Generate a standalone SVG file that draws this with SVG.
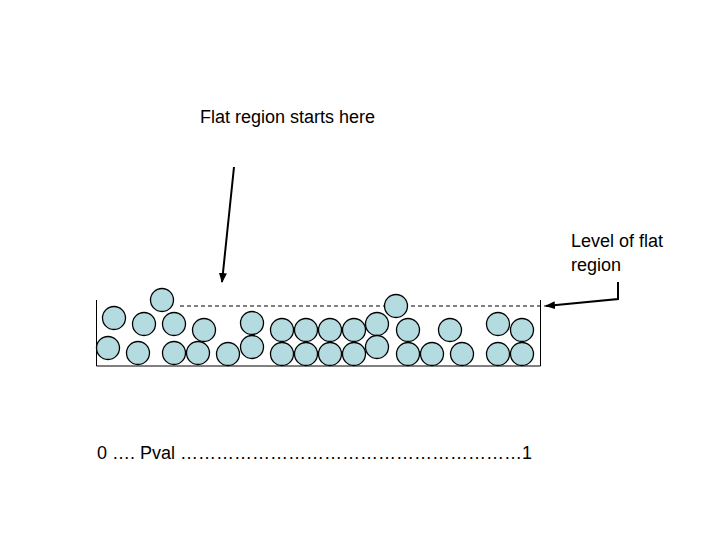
<svg xmlns="http://www.w3.org/2000/svg" width="720" height="540" viewBox="0 0 720 540">
<style>
.t{font-family:"Liberation Sans",Arial,sans-serif;font-size:18px;fill:#000}
.b{fill:#b4dce0;stroke:#000;stroke-width:1.3}
.ln{fill:none;stroke:#000}
</style>
<defs>
<marker id="ah" viewBox="0 0 10 10" refX="9" refY="5" markerWidth="5" markerHeight="5" orient="auto" markerUnits="strokeWidth">
<path d="M0,1 L10,5 L0,9 z" fill="#000"/>
</marker>
</defs>
<rect width="720" height="540" fill="#fff"/>
<g id="container">
<polyline class="ln" stroke-width="1" points="96.5,300 96.5,366 540.5,366 540.5,300"/>
<line class="ln" x1="180" y1="306" x2="546" y2="306" stroke-width="1" stroke-dasharray="4,3"/>
</g>
<g id="balls">
<circle class="b" cx="162" cy="300" r="11.5"/>
<circle class="b" cx="396" cy="306" r="11.5"/>
<circle class="b" cx="114" cy="318" r="11.5"/>
<circle class="b" cx="144" cy="324" r="11.5"/>
<circle class="b" cx="174" cy="324" r="11.5"/>
<circle class="b" cx="204" cy="330" r="11.5"/>
<circle class="b" cx="252" cy="323" r="11.5"/>
<circle class="b" cx="282" cy="330" r="11.5"/>
<circle class="b" cx="306" cy="330" r="11.5"/>
<circle class="b" cx="330" cy="330" r="11.5"/>
<circle class="b" cx="354" cy="330" r="11.5"/>
<circle class="b" cx="377" cy="324" r="11.5"/>
<circle class="b" cx="408" cy="330" r="11.5"/>
<circle class="b" cx="450" cy="330" r="11.5"/>
<circle class="b" cx="498" cy="324" r="11.5"/>
<circle class="b" cx="522" cy="330" r="11.5"/>
<circle class="b" cx="108" cy="348" r="11.5"/>
<circle class="b" cx="138" cy="353" r="11.5"/>
<circle class="b" cx="174" cy="353" r="11.5"/>
<circle class="b" cx="198" cy="353" r="11.5"/>
<circle class="b" cx="228" cy="354" r="11.5"/>
<circle class="b" cx="252" cy="347" r="11.5"/>
<circle class="b" cx="282" cy="354" r="11.5"/>
<circle class="b" cx="306" cy="354" r="11.5"/>
<circle class="b" cx="330" cy="354" r="11.5"/>
<circle class="b" cx="354" cy="354" r="11.5"/>
<circle class="b" cx="377" cy="347" r="11.5"/>
<circle class="b" cx="408" cy="354" r="11.5"/>
<circle class="b" cx="432" cy="354" r="11.5"/>
<circle class="b" cx="462" cy="354" r="11.5"/>
<circle class="b" cx="498" cy="354" r="11.5"/>
<circle class="b" cx="522" cy="354" r="11.5"/>
</g>
<g id="label-flat">
<text class="t" x="200" y="123">Flat region starts here</text>
</g>
<g id="label-level">
<text class="t" x="571" y="247">Level of flat</text>
<text class="t" x="571" y="271">region</text>
</g>
<g id="axis">
<text class="t" x="97" y="459">0 …. Pval …………………………………………………1</text>
</g>
<g id="connectors">
<line class="ln" x1="234" y1="167" x2="222" y2="282" stroke-width="2" marker-end="url(#ah)"/>
<polyline class="ln" points="618,282 618,299 546,306" stroke-width="2" marker-end="url(#ah)"/>
</g>
</svg>
